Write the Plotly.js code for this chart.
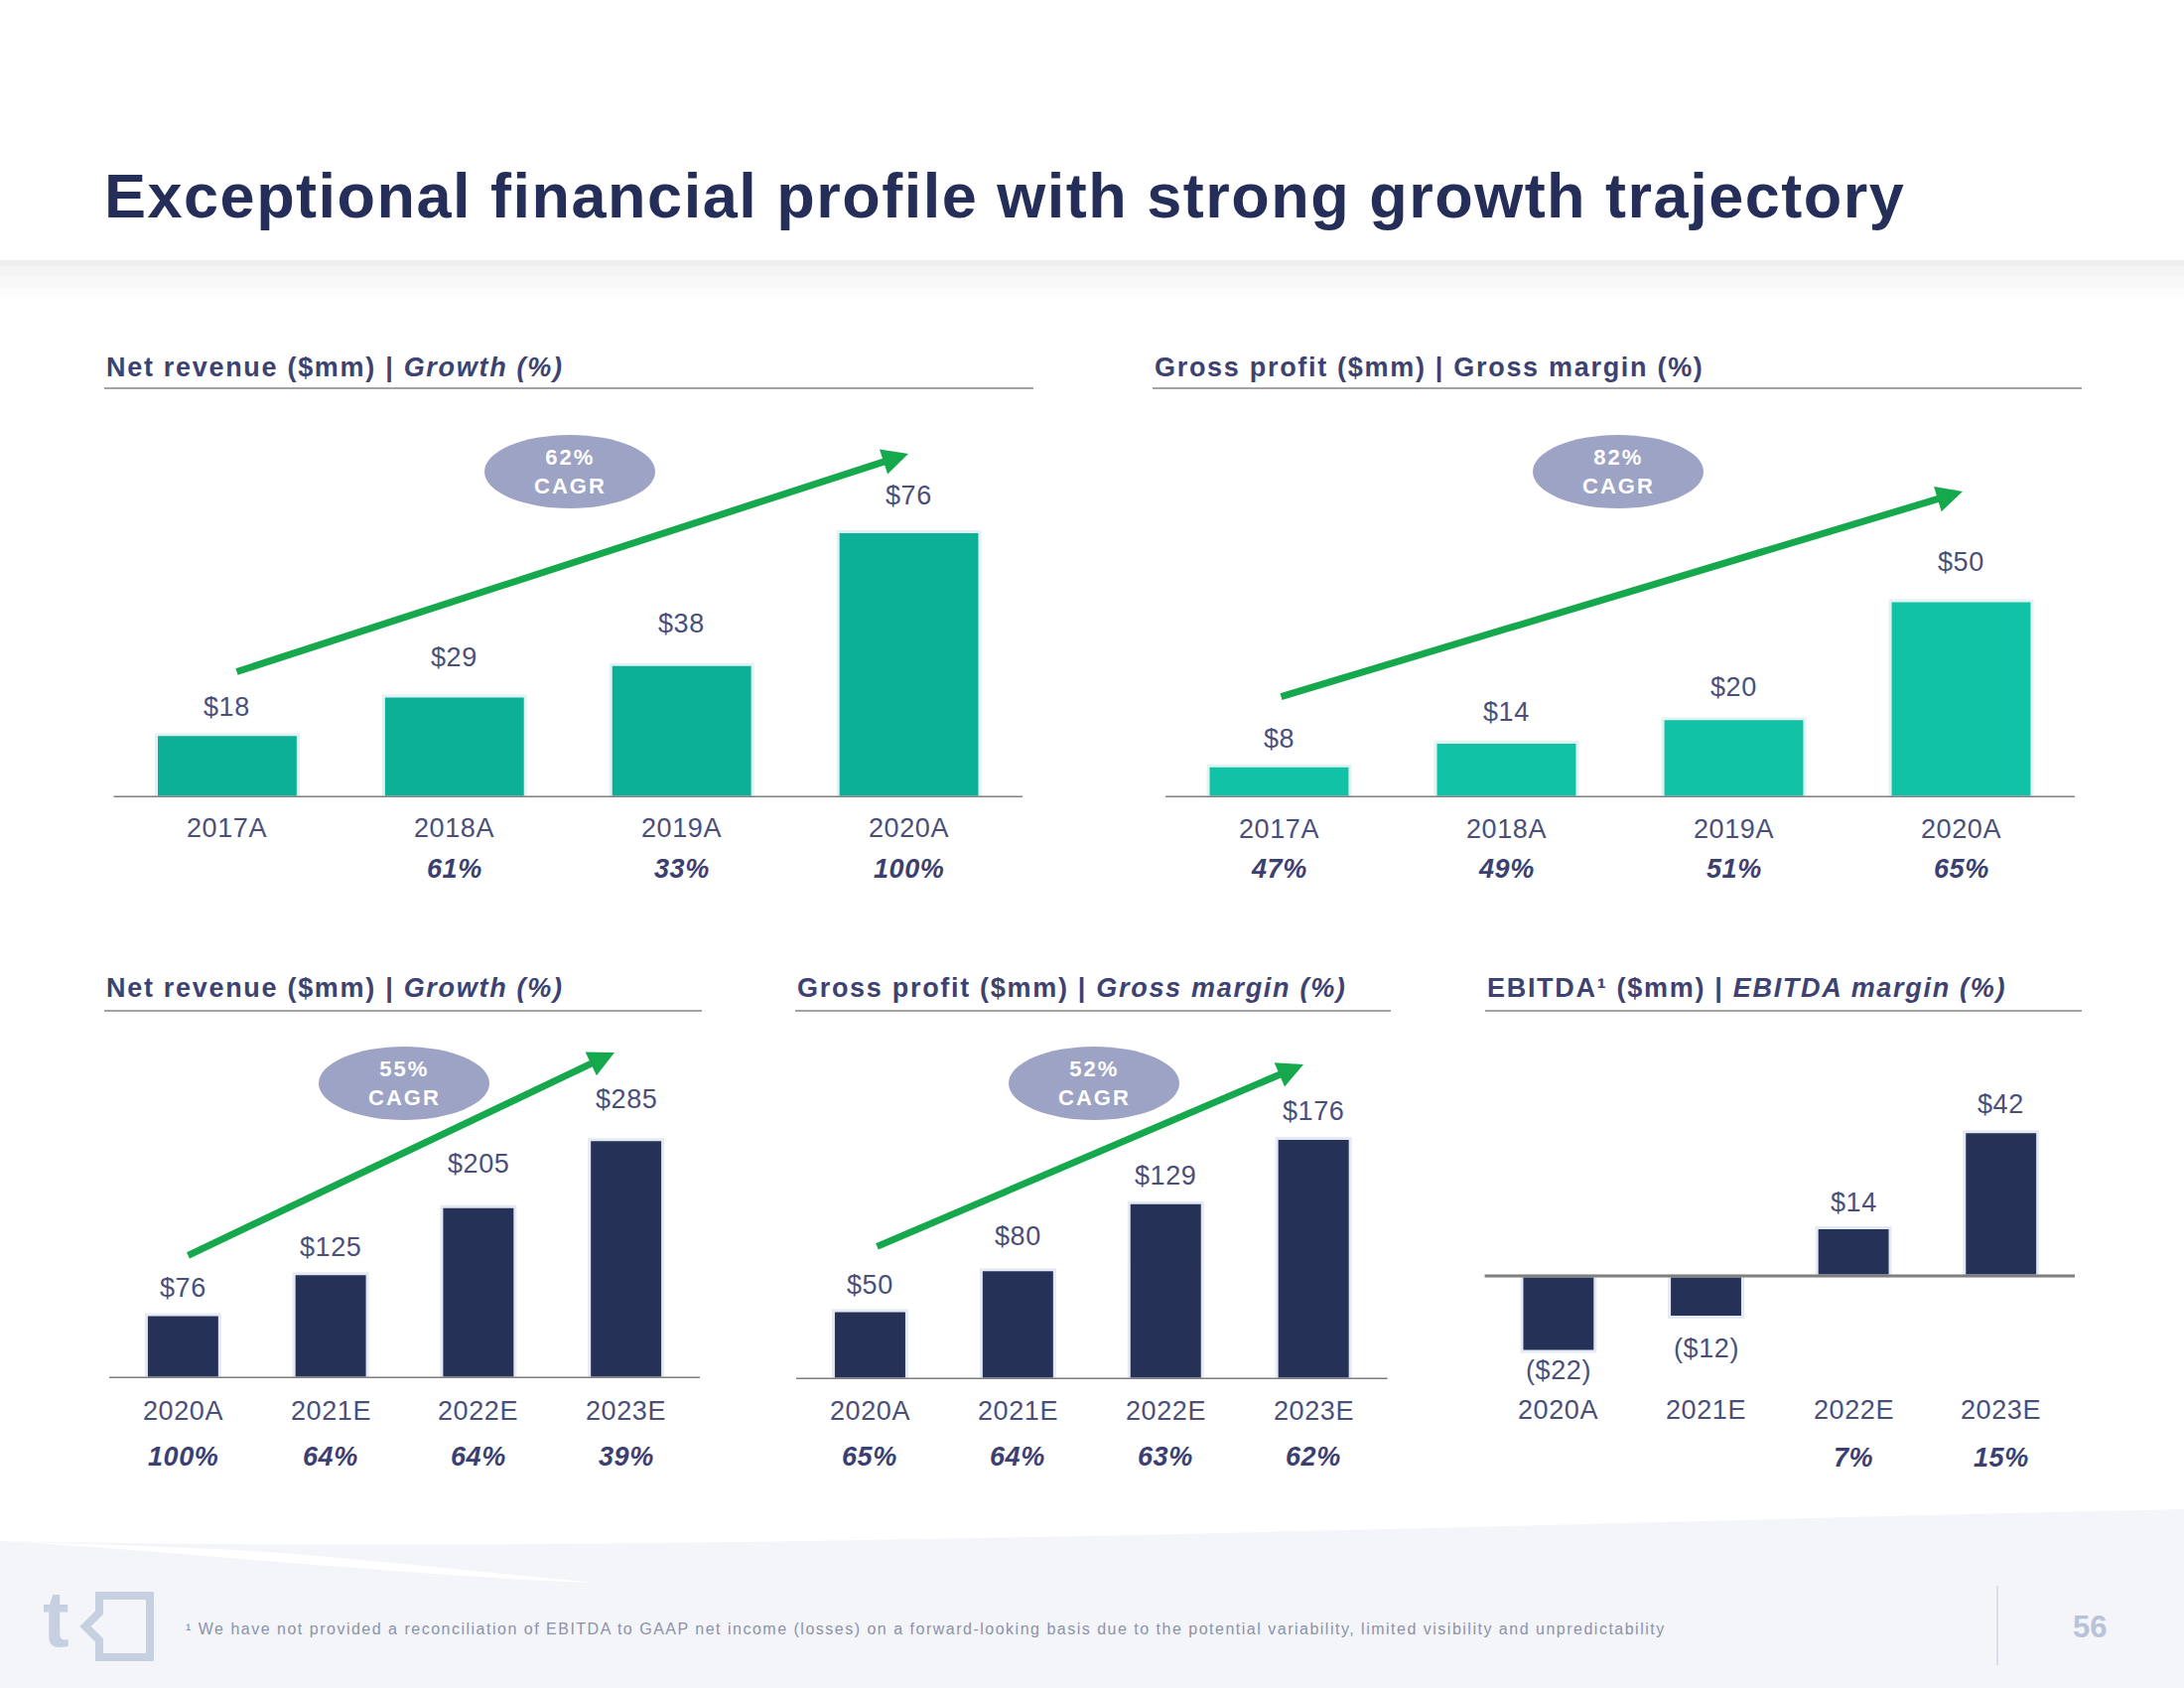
<!DOCTYPE html>
<html><head><meta charset="utf-8">
<script src="https://cdn.plot.ly/plotly-3.0.1.min.js"></script>
<style>html,body{margin:0;padding:0;background:#fff}</style>
</head><body><div id="chart" style="width:2200px;height:1700px"></div>
<script>
// ---------------- DATA ----------------
const histCategories = ['2017A', '2018A', '2019A', '2020A'];
const histNetRevenue = [18, 29, 38, 76];
const histRevenueGrowth = ['', '61%', '33%', '100%'];
const histGrossProfit = [8, 14, 20, 50];
const histGrossMargin = ['47%', '49%', '51%', '65%'];

const projCategories = ['2020A', '2021E', '2022E', '2023E'];
const projNetRevenue = [76, 125, 205, 285];
const projRevenueGrowth = ['100%', '64%', '64%', '39%'];
const projGrossProfit = [50, 80, 129, 176];
const projGrossMargin = ['65%', '64%', '63%', '62%'];
const projEbitda = [-22, -12, 14, 42];
const projEbitdaMargin = ['', '', '7%', '15%'];

const cagrLabels = ['62%', '82%', '55%', '52%'];

const pageTitle = 'Exceptional financial profile with strong growth trajectory';
const footnote = '\u00b9 We have not provided a reconciliation of EBITDA to GAAP net income (losses) on a forward-looking basis due to the potential variability, limited visibility and unpredictability';
const pageNumber = '56';

// ---------------- STYLE / LAYOUT ----------------
const W = 2200, H = 1700;
const SANS = '"Liberation Sans", Arial, sans-serif';
const NAVY = '#263158';
const px = x => x / W;
const py = y => 1 - y / H;
const ls = (t, s) => '<span style="letter-spacing:' + s + 'px">' + t + '</span>';

const panels = [
  {cats: histCategories, vals: histNetRevenue, sub: histRevenueGrowth, color: '#0bb096', halo: '#e2f1f3',
   xl: 114.5, xr: 1030, base: 803, top: 400, bottom: 803, ppu: 3.52, bw: 0.624,
   valOffs: [28, 39, 41, 36], catOff: 31, subOff: 72,
   head: {x0: 105, x1: 1041, ly: 391, ty: 370, t1: 'Net revenue ($mm) | ', t2: '<i>Growth (%)</i>'},
   arrow: {tx: 237, ty: 677, hx: 915, hy: 457}, ell: {cx: 574, cy: 475}, cagr: cagrLabels[0]},
  {cats: histCategories, vals: histGrossProfit, sub: histGrossMargin, color: '#12c2a6', halo: '#e2f3f2',
   xl: 1174, xr: 2090, base: 803, top: 400, bottom: 803, ppu: 3.96, bw: 0.624,
   valOffs: [27, 31, 32, 39], catOff: 32, subOff: 72,
   head: {x0: 1161, x1: 2097, ly: 391, ty: 370, t1: 'Gross profit ($mm) | ', t2: 'Gross margin (%)'},
   arrow: {tx: 1289, ty: 702, hx: 1977, hy: 495}, ell: {cx: 1630, cy: 475}, cagr: cagrLabels[1]},
  {cats: projCategories, vals: projNetRevenue, sub: projRevenueGrowth, color: NAVY, halo: '#e4e9f2',
   xl: 110, xr: 705, base: 1388, top: 1040, bottom: 1388, ppu: 0.843, bw: 0.497,
   valOffs: [27, 27, 43, 41], catOff: 33, subOff: 79,
   head: {x0: 105, x1: 707, ly: 1018, ty: 995, t1: 'Net revenue ($mm) | ', t2: '<i>Growth (%)</i>'},
   arrow: {tx: 188, ty: 1265, hx: 619, hy: 1060}, ell: {cx: 407, cy: 1091}, cagr: cagrLabels[2]},
  {cats: projCategories, vals: projGrossProfit, sub: projGrossMargin, color: NAVY, halo: '#e4e9f2',
   xl: 802, xr: 1397.6, base: 1389, top: 1040, bottom: 1389, ppu: 1.378, bw: 0.497,
   valOffs: [26, 34, 27, 27], catOff: 32, subOff: 78,
   head: {x0: 801, x1: 1401, ly: 1018, ty: 995, t1: 'Gross profit ($mm) | ', t2: '<i>Gross margin (%)</i>'},
   arrow: {tx: 882, ty: 1256, hx: 1313, hy: 1072}, ell: {cx: 1102, cy: 1091}, cagr: cagrLabels[3]},
  {cats: projCategories, vals: projEbitda, sub: projEbitdaMargin, color: NAVY, halo: '#e4e9f2',
   xl: 1495.6, xr: 2090, base: 1285, top: 1040, bottom: 1400, ppu: 3.46, bw: 0.497,
   valOffs: [19, 31, 26, 28], catOff: 135, subOff: 183,
   head: {x0: 1496, x1: 2097, ly: 1018, ty: 995, t1: 'EBITDA\u00b9 ($mm) | ', t2: '<i>EBITDA margin (%)</i>'},
   arrow: null, ell: null, cagr: null}
];

const fmt = v => v < 0 ? '($' + Math.abs(v) + ')' : '$' + v;

const data = [];
const annotations = [];
const shapes = [];
const layout = {
  width: W, height: H, margin: {l: 0, r: 0, t: 0, b: 0},
  paper_bgcolor: '#ffffff', plot_bgcolor: 'rgba(0,0,0,0)',
  showlegend: false
};

// header shadow
[[262, 268, '#efefef'], [268, 278, '#f4f4f4'], [278, 290, '#f8f8f8'], [290, 300, '#fcfcfc']].forEach(b => {
  shapes.push({type: 'rect', xref: 'paper', yref: 'paper', x0: 0, x1: 1, y0: py(b[1]), y1: py(b[0]),
    fillcolor: b[2], line: {width: 0}, layer: 'below'});
});

// footer background wave
const P = (x, y) => px(x) + ',' + py(y);
shapes.push({type: 'path', xref: 'paper', yref: 'paper', layer: 'below', line: {width: 0}, fillcolor: '#f3f5f9',
  path: 'M' + P(0, 1552) + ' C' + P(700, 1566) + ' ' + P(1500, 1535) + ' ' + P(2200, 1520) +
        ' L' + P(2200, 1700) + ' L' + P(0, 1700) + ' Z'});
shapes.push({type: 'path', xref: 'paper', yref: 'paper', layer: 'below', line: {width: 0}, fillcolor: '#ffffff',
  path: 'M' + P(0, 1552) + ' C' + P(180, 1562) + ' ' + P(420, 1588) + ' ' + P(600, 1594) +
        ' C' + P(450, 1580) + ' ' + P(320, 1565) + ' ' + P(238, 1561) +
        ' C' + P(150, 1557) + ' ' + P(60, 1554) + ' ' + P(0, 1552) + ' Z'});
// footer divider
shapes.push({type: 'line', xref: 'paper', yref: 'paper', x0: px(2012), x1: px(2012), y0: py(1597), y1: py(1677),
  line: {color: '#cfd6e3', width: 1.5}});
// logo bracket
shapes.push({type: 'path', xref: 'paper', yref: 'paper', line: {color: '#c6d0e0', width: 8}, fillcolor: 'rgba(0,0,0,0)',
  path: 'M' + P(100, 1607) + ' L' + P(151, 1607) + ' L' + P(151, 1669) + ' L' + P(100, 1669) +
        ' L' + P(100, 1652) + ' L' + P(86, 1638) + ' L' + P(100, 1624) + ' Z'});

// page title
annotations.push({xref: 'paper', yref: 'paper', x: px(103), y: py(197), xanchor: 'left', yanchor: 'middle',
  showarrow: false, text: ls(pageTitle, 1.5),
  font: {family: SANS, size: 63, weight: 'bold', color: '#252e58'}});
// footnote + page number + logo t
annotations.push({xref: 'paper', yref: 'paper', x: px(185), y: py(1640), xanchor: 'left', yanchor: 'middle',
  showarrow: false, text: ls(footnote, 1.5), font: {family: SANS, size: 16, color: '#8c92a8'}});
annotations.push({xref: 'paper', yref: 'paper', x: px(2105), y: py(1638), xanchor: 'center', yanchor: 'middle',
  showarrow: false, text: pageNumber, font: {family: SANS, size: 31, weight: 'bold', color: '#b9c3d7'}});
annotations.push({xref: 'paper', yref: 'paper', x: px(56), y: py(1630), xanchor: 'center', yanchor: 'middle',
  showarrow: false, text: 't', font: {family: SANS, size: 80, weight: 'bold', color: '#c6d0e0'}});

panels.forEach((p, k) => {
  const n = k === 0 ? '' : String(k + 1);
  const xa = 'x' + n, ya = 'y' + n;
  const unit = (p.xr - p.xl) / p.cats.length;
  layout['xaxis' + n] = {domain: [px(p.xl), px(p.xr)], range: [-0.5, p.cats.length - 0.5], type: 'category',
    anchor: ya, visible: false, fixedrange: true};
  layout['yaxis' + n] = {domain: [py(p.bottom), py(p.top)], range: [-(p.bottom - p.base) / p.ppu, (p.base - p.top) / p.ppu],
    anchor: xa, visible: false, fixedrange: true};

  data.push({type: 'bar', x: p.cats, y: p.vals, xaxis: xa, yaxis: ya, width: p.bw,
    marker: {color: p.color, line: {color: p.halo, width: 3}}, hoverinfo: 'skip'});

  // baseline
  shapes.push({type: 'line', xref: xa + ' domain', yref: ya, x0: 0, x1: 1, y0: 0, y1: 0,
    line: {color: '#7f7f7f', width: 3}, layer: 'above'});
  // header underline
  shapes.push({type: 'line', xref: 'paper', yref: 'paper', x0: px(p.head.x0), x1: px(p.head.x1),
    y0: py(p.head.ly), y1: py(p.head.ly), line: {color: '#a3a3a3', width: 2}});
  annotations.push({xref: 'paper', yref: 'paper', x: px(p.head.x0), y: py(p.head.ty), xanchor: 'left', yanchor: 'middle',
    showarrow: false, text: ls(p.head.t1 + p.head.t2, 1.7),
    font: {family: SANS, size: 27, weight: 'bold', color: '#3d4270'}});

  p.cats.forEach((c, i) => {
    const v = p.vals[i];
    const off = p.valOffs[i];
    annotations.push({xref: xa, yref: ya, x: c, y: v, yshift: v >= 0 ? off : -off, yanchor: 'middle',
      showarrow: false, text: ls(fmt(v), 0.6), font: {family: SANS, size: 27, color: '#4a4f7a'}});
    annotations.push({xref: xa, yref: ya, x: c, y: 0, yshift: -p.catOff, yanchor: 'middle',
      showarrow: false, text: ls(c, 0.6), font: {family: SANS, size: 27, color: '#4a4f7a'}});
    if (p.sub[i]) {
      annotations.push({xref: xa, yref: ya, x: c, y: 0, yshift: -p.subOff, yanchor: 'middle',
        showarrow: false, text: '<b><i>' + ls(p.sub[i], 0.6) + '</i></b>', font: {family: SANS, size: 27, color: '#3b4070'}});
    }
  });

  if (p.arrow) {
    const dx = v => (v - p.xl) / unit - 0.5;
    const dy = v => (p.base - v) / p.ppu;
    annotations.push({xref: xa, yref: ya, axref: xa, ayref: ya,
      x: dx(p.arrow.hx), y: dy(p.arrow.hy), ax: dx(p.arrow.tx), ay: dy(p.arrow.ty),
      text: '', showarrow: true, arrowhead: 2, arrowsize: 0.75, arrowwidth: 7, arrowcolor: '#16a84c', standoff: 0});
  }
  if (p.ell) {
    shapes.push({type: 'circle', xref: 'paper', yref: 'paper', x0: px(p.ell.cx - 86), x1: px(p.ell.cx + 86),
      y0: py(p.ell.cy + 37), y1: py(p.ell.cy - 37), fillcolor: '#9ca3c4', line: {width: 0}});
    annotations.push({xref: 'paper', yref: 'paper', x: px(p.ell.cx), y: py(p.ell.cy), xanchor: 'center', yanchor: 'middle',
      showarrow: false, text: ls(p.cagr + '<br>CAGR', 2),
      font: {family: SANS, size: 22, weight: 'bold', color: '#ffffff'}});
  }
});

layout.annotations = annotations;
layout.shapes = shapes;
Plotly.newPlot('chart', data, layout, {staticPlot: true, displayModeBar: false});
</script></body></html>
